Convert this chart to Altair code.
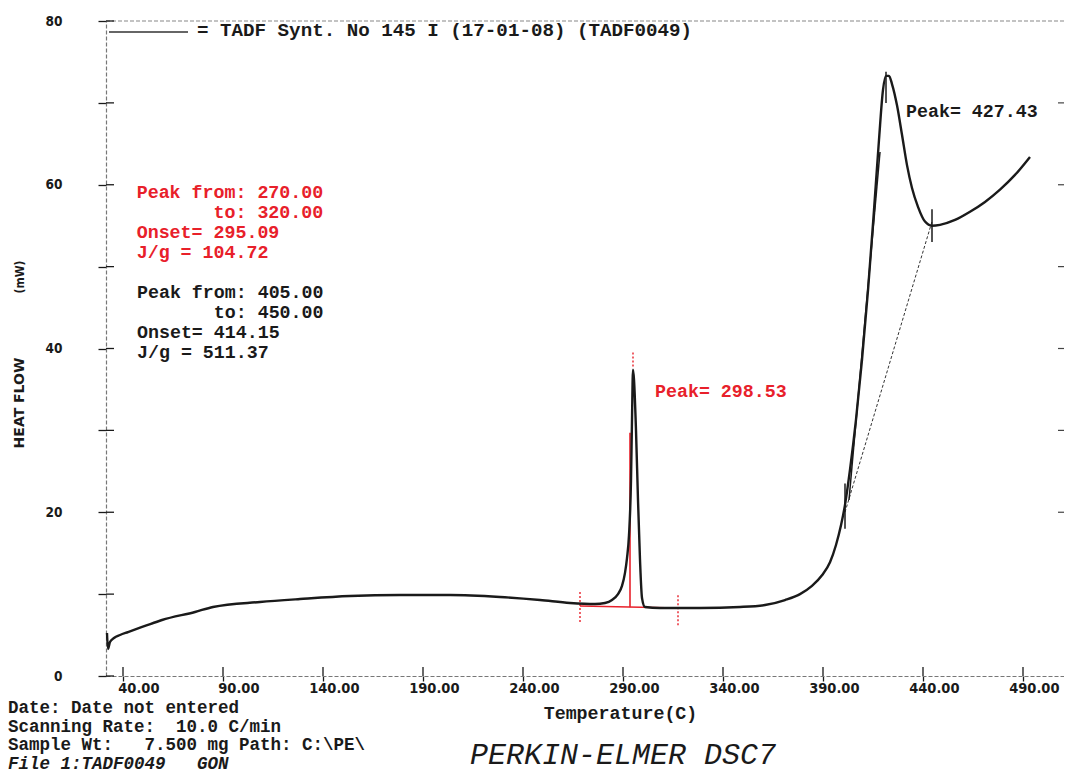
import altair as alt
import pandas as pd

# ---- data ----
temp_c = [32.0, 32.5, 33.5, 35.5, 38.5, 42.5, 51.0, 59.5, 76.0, 85.0, 108.5, 128.5, 153.5, 178.5,
          203.5, 228.5, 248.5, 263.5, 276.0, 281.0, 284.5, 287.5, 289.5, 291.0, 292.0, 293.0,
          294.0, 294.5, 295.0, 295.5, 296.5, 297.5, 298.5, 299.5, 301.0, 308.5, 328.5, 348.5,
          361.0, 371.0, 378.5, 384.5, 389.5, 393.5, 396.5, 399.0, 401.0, 403.5, 406.5, 409.5,
          412.5, 415.5, 418.0, 420.0, 421.5, 423.0, 424.5, 427.0, 429.5, 432.0, 434.5, 437.5,
          441.0, 444.5, 448.5, 456.0, 463.5, 471.0, 478.5, 486.0, 493.5]
heat_mw = [5.25, 3.30, 4.15, 4.64, 5.01, 5.37, 6.11, 6.84, 7.82, 8.43, 9.04, 9.40, 9.77, 9.89,
           9.89, 9.65, 9.28, 8.92, 8.79, 8.92, 9.28, 10.0, 11.0, 12.6, 14.4, 17.2,
           23.9, 31.3, 37.4, 36.2, 30.0, 21.5, 14.2, 9.53, 8.43, 8.31, 8.31, 8.43,
           8.67, 9.28, 10.0, 11.0, 12.3, 13.9, 16.0, 18.4, 20.9, 25.2, 31.3, 38.6,
           47.1, 56.9, 65.5, 71.6, 73.3, 73.3, 72.3, 69.7, 66.1, 62.4, 59.6, 57.3,
           55.5, 55.0, 55.1, 55.7, 56.7, 57.9, 59.4, 61.2, 63.4]

x_ticks = [40, 90, 140, 190, 240, 290, 340, 390, 440, 490]
y_ticks = [0, 10, 20, 30, 40, 50, 60, 70, 80]
right_ticks = [20, 30, 40, 50, 60, 70]

# annotation segments (T1, H1, T2, H2)
red_solid = [(268.5, 8.55, 317.5, 8.31), (293.5, 8.4, 293.5, 29.7)]
red_dashed = [(268.5, 6.6, 268.5, 10.5), (317.5, 6.2, 317.5, 10.1), (295.0, 37.8, 295.0, 39.5)]
black_solid = [(403.0, 21.5, 418.5, 64.0), (401.0, 18.0, 401.0, 23.5),
               (444.5, 53.0, 444.5, 57.0), (421.5, 70.0, 421.5, 73.8)]
black_dashed = [(401.0, 20.0, 444.5, 55.5)]

red_block = ["Peak from: 270.00", "       to: 320.00", "Onset= 295.09", "J/g = 104.72"]
black_block = ["Peak from: 405.00", "       to: 450.00", "Onset= 414.15", "J/g = 511.37"]
red_peak = "Peak= 298.53"
black_peak = "Peak= 427.43"
legend_text = "= TADF Synt. No 145 I (17-01-08) (TADF0049)"
footer_lines = ["Date: Date not entered", "Scanning Rate:  10.0 C/min",
                "Sample Wt:   7.500 mg Path: C:\\PE\\"]
file_line = "File 1:TADF0049   GON"
brand = "PERKIN-ELMER DSC7"
y_title = ["HEAT FLOW", "(mW)"]

RED = "#e8202a"
INK = "#1a1a1a"
MONO = "Liberation Mono, DejaVu Sans Mono, monospace"
COND = "DejaVu Sans Condensed, DejaVu Sans, sans-serif"

W, H = 958, 655


def nb(s):
    # keep runs of spaces (and leading spaces) visible
    return "\u200b" + s.replace(" ", "\u00a0")


xs = alt.Scale(domain=[31.5, 510.5], nice=False, zero=False)
ys = alt.Scale(domain=[0, 80], nice=False, zero=False)

X_AXIS = alt.Axis(
    values=x_ticks, format=".2f", labelFont=COND, labelFontWeight="bold",
    labelFontSize=14.5, labelColor=INK, labelAlign="right", labelOffset=36, labelBaseline="top",
    labelPadding=0, labelFlush=False, labelOverlap=False, tickSize=5, tickColor=INK,
    tickWidth=1.3, grid=False, domainColor="#777", domainDash=[4, 2], domainWidth=1.2,
    title="Temperature(C)", titleFont=MONO, titleFontWeight="bold", titleFontSize=18.3,
    titleColor=INK, titleX=514, titleY=42, titleAlign="center", titleBaseline="alphabetic")
Y_AXIS = alt.Axis(
    values=y_ticks, format="d", labelExpr="datum.value % 20 === 0 ? datum.label : ''",
    labelFont=COND, labelFontWeight="bold", labelFontSize=13.5, labelColor=INK,
    labelBaseline="middle", labelPadding=36, labelFlush=False, labelOverlap=False,
    tickSize=8, tickColor=INK, tickWidth=1.3, grid=False, domainColor="#777",
    domainDash=[4, 2], domainWidth=1.2, title=None)


def X(field):
    return alt.X(field, scale=xs, axis=X_AXIS)


def Y(field):
    return alt.Y(field, scale=ys, axis=Y_AXIS)


curve = pd.DataFrame({"T": temp_c, "H": heat_mw, "i": list(range(len(temp_c)))})
one = pd.DataFrame({"a": [0]})

line = alt.Chart(curve).mark_line(color=INK, strokeWidth=2.4, interpolate="monotone").encode(
    x=X("T:Q"), y=Y("H:Q"), order="i:Q")


def segs(lst, color, width, dash=None):
    df = pd.DataFrame(lst, columns=["T", "H", "T2", "H2"])
    kw = dict(color=color, strokeWidth=width)
    if dash:
        kw["strokeDash"] = dash
    return alt.Chart(df).mark_rule(**kw).encode(x=X("T:Q"), y=Y("H:Q"), x2="T2:Q", y2="H2:Q")


y_in = alt.Chart(pd.DataFrame({"H": y_ticks})).mark_rule(color=INK, strokeWidth=1.3).encode(
    y=Y("H:Q"), x=alt.value(0), x2=alt.value(8))
x_in = alt.Chart(pd.DataFrame({"T": x_ticks})).mark_rule(color=INK, strokeWidth=1.3).encode(
    x=X("T:Q"), y=alt.value(H), y2=alt.value(H - 9))
r_in = alt.Chart(pd.DataFrame({"H": right_ticks})).mark_rule(color="#444", strokeWidth=1.2).encode(
    y=Y("H:Q"), x=alt.value(W - 6), x2=alt.value(W))
top_border = alt.Chart(one).mark_rule(color="#888", strokeWidth=1.2, strokeDash=[4, 2]).encode(
    x=alt.value(0), x2=alt.value(W), y=alt.value(0))
legend_line = alt.Chart(one).mark_rule(color="#333", strokeWidth=1.3).encode(
    x=alt.value(3), x2=alt.value(82), y=alt.value(11))


def txt_data(text, tx, hy, color, size=18.3, weight="bold", line_h=20):
    df = pd.DataFrame({"T": [tx], "H": [hy]})
    return alt.Chart(df).mark_text(
        align="left", baseline="alphabetic", font=MONO, fontSize=size, fontWeight=weight,
        color=color, lineHeight=line_h).encode(x=X("T:Q"), y=Y("H:Q"), text=alt.value(text))


def txt_px(text, px, py, color=INK, size=17.5, weight="bold", style="normal", font=MONO,
           align="left", angle=0, baseline="alphabetic"):
    kw = dict(align=align, baseline=baseline, font=font, fontSize=size, fontWeight=weight,
              fontStyle=style, color=color)
    if angle:
        kw["angle"] = angle
    return alt.Chart(one).mark_text(**kw).encode(
        x=alt.value(px), y=alt.value(py), text=alt.value(text))


layers = [
    top_border, y_in, x_in, r_in,
    segs(red_solid, RED, 1.6), segs(red_dashed, RED, 1.4, [2, 2]),
    segs(black_dashed, "#333", 1.0, [3, 2]), segs(black_solid, INK, 1.5),
    line,
    txt_data([nb(s) for s in red_block], 46.85, 58.38, RED),
    txt_data([nb(s) for s in black_block], 47.0, 46.17, INK),
    txt_data(nb(red_peak), 306.0, 34.1, RED),
    txt_data(nb(black_peak), 431.5, 68.3, INK),
    legend_line,
    txt_px(nb(legend_text), 91, 15, size=19.2),
    txt_px(y_title[0], -86, 382, size=14, font="DejaVu Sans, sans-serif", align="center",
           angle=270, baseline="middle"),
    txt_px(y_title[1], -86, 256, size=12, font=COND, align="center", angle=270,
           baseline="middle"),
]
foot_y = [692, 710.5, 729]
for s, fy in zip(footer_lines, foot_y):
    layers.append(txt_px(nb(s), -98, fy))
layers.append(txt_px(nb(file_line), -98, 747.5, style="italic"))
layers.append(txt_px(nb(brand), 364, 743, size=30, weight="normal", style="italic"))

chart = alt.layer(*layers).properties(
    width=W, height=H,
    autosize=alt.AutoSizeParams(type="none"),
    padding={"left": 98, "top": 13, "right": 0, "bottom": 98},
    background="white",
).configure_view(stroke=None)

chart.save("out.html", embed_options={"renderer": "svg", "actions": False})
